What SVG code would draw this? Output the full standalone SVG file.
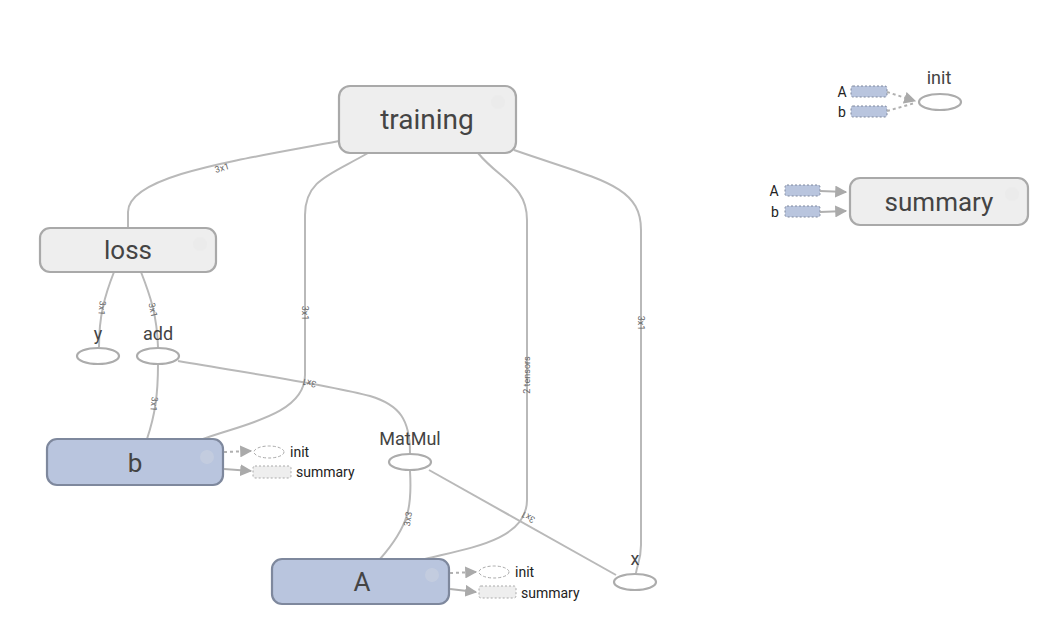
<svg xmlns="http://www.w3.org/2000/svg" width="1051" height="631" viewBox="0 0 1051 631">
<style>
.bg{fill:#fff}
.grp{fill:#eeeeee;stroke:#a9a9a9;stroke-width:2.2}
.var{fill:#b9c5de;stroke:#7e889d;stroke-width:2.2}
.op{fill:#fff;stroke:#acacac;stroke-width:2.2}
.big{font-family:Roboto,"Liberation Sans",sans-serif;fill:#444;text-anchor:middle}
.lbl{font-family:Roboto,"Liberation Sans",sans-serif;fill:#444;font-size:18px;text-anchor:middle}
.sm{font-family:Roboto,"Liberation Sans",sans-serif;fill:#222;font-size:14px}
.el{font-family:Roboto,"Liberation Sans",sans-serif;fill:#666;font-size:9px;text-anchor:middle}
.e{fill:none;stroke:#b9b9b9;stroke-width:2}
.ed{fill:none;stroke:#b0b0b0;stroke-width:2;stroke-dasharray:3 3}
.es{fill:none;stroke:#b0b0b0;stroke-width:2}
.dv{fill:#b9c5de;stroke:#7e889d;stroke-width:1;stroke-dasharray:2 2}
.dg{fill:#eee;stroke:#aaa;stroke-width:1;stroke-dasharray:2 2}
.do{fill:#fff;stroke:#aaa;stroke-width:1;stroke-dasharray:3 2}
.ico{fill:#e4e4e4;opacity:0.25}
</style>
<defs>
<marker id="ar" viewBox="0 0 10 10" refX="9" refY="5" markerWidth="6" markerHeight="6" orient="auto"><path d="M0 0L10 5L0 10z" fill="#aaa"/></marker>
</defs>
<rect class="bg" x="0" y="0" width="1051" height="631"/>
<g id="connectors">
<path class="e" d="M339 141 C 240 160, 128 175, 128 212 L128 228"/>
<path class="e" d="M368 153 C 330 175, 305 180, 305 215 L305 375 C305 415, 240 425, 203 439"/>
<path class="e" d="M478 153 C 500 180, 527 185, 527 220 L527 500 C527 540, 470 548, 425 559"/>
<path class="e" d="M514 150 C 600 180, 641 185, 641 230 L641 545 C641 560, 637 565, 636 573"/>
<path class="e" d="M114 272 C 105 295, 99 315, 99 347"/>
<path class="e" d="M141 272 C 150 295, 157 315, 158 347"/>
<path class="e" d="M158 364 C 158 395, 155 415, 147 439"/>
<path class="e" d="M178 361 C 260 375, 330 385, 370 396 C 400 405, 410 420, 410 453"/>
<path class="e" d="M410 471 C 412 505, 410 525, 380 559"/>
<path class="e" d="M429 470 L616 575"/>
<text class="el" transform="translate(222,168) rotate(-16)" dy="3">3x1</text>
<text class="el" transform="translate(305,313) rotate(90)" dy="3">3x1</text>
<text class="el" transform="translate(527,375) rotate(-90)" dy="3">2 tensors</text>
<text class="el" transform="translate(641,323) rotate(90)" dy="3">3x1</text>
<text class="el" transform="translate(102,308) rotate(95)" dy="3">3x1</text>
<text class="el" transform="translate(153,310) rotate(78)" dy="3">3x1</text>
<text class="el" transform="translate(154,404) rotate(95)" dy="3">3x1</text>
<text class="el" transform="translate(309,383) rotate(192)" dy="3">3x1</text>
<text class="el" transform="translate(408,519) rotate(-80)" dy="3">3x3</text>
<text class="el" transform="translate(528,517) rotate(210)" dy="3">3x1</text>
</g>
<g id="training">
<rect class="grp" x="339" y="86" width="177" height="67" rx="11"/>
<circle class="ico" cx="498" cy="102" r="7"/>
<text class="big" x="427" y="129" font-size="28">training</text>
</g>
<g id="loss">
<rect class="grp" x="40" y="228" width="176" height="44" rx="10"/>
<circle class="ico" cx="200" cy="244" r="7"/>
<text class="big" x="128" y="259" font-size="26">loss</text>
</g>
<g id="summary">
<rect class="grp" x="850" y="178" width="178" height="47" rx="10"/>
<circle class="ico" cx="1012" cy="194" r="7"/>
<text class="big" x="939" y="211" font-size="26">summary</text>
<text class="sm" x="774" y="196" text-anchor="middle">A</text>
<rect class="dv" x="785" y="185" width="35" height="11" rx="2"/>
<path class="es" d="M820 191 L846 192" marker-end="url(#ar)"/>
<text class="sm" x="775" y="217" text-anchor="middle">b</text>
<rect class="dv" x="785" y="206" width="35" height="11" rx="2"/>
<path class="es" d="M820 212 L846 211" marker-end="url(#ar)"/>
</g>
<g id="init">
<ellipse class="op" cx="940" cy="102" rx="21" ry="8"/>
<text class="lbl" x="939" y="84">init</text>
<text class="sm" x="842" y="97" text-anchor="middle">A</text>
<rect class="dv" x="851" y="86" width="36" height="11" rx="2"/>
<path class="ed" d="M887 92 L915 101" marker-end="url(#ar)"/>
<text class="sm" x="842" y="117" text-anchor="middle">b</text>
<rect class="dv" x="851" y="106" width="36" height="11" rx="2"/>
<path class="ed" d="M887 111 L915 103"/>
</g>
<g id="y">
<ellipse class="op" cx="98" cy="356" rx="21" ry="8"/>
<text class="lbl" x="98" y="340">y</text>
</g>
<g id="add">
<ellipse class="op" cx="158" cy="356" rx="21" ry="8"/>
<text class="lbl" x="158" y="340">add</text>
</g>
<g id="MatMul">
<ellipse class="op" cx="410" cy="462" rx="21" ry="8"/>
<text class="lbl" x="410" y="445">MatMul</text>
</g>
<g id="x">
<ellipse class="op" cx="635" cy="582" rx="21" ry="8"/>
<text class="lbl" x="635" y="565">x</text>
</g>
<g id="b">
<rect class="var" x="47" y="439" width="176" height="46" rx="10"/>
<circle class="ico" cx="207" cy="457" r="7"/>
<text class="big" x="135" y="472" font-size="26">b</text>
<path class="ed" d="M224 452 L251 451" marker-end="url(#ar)"/>
<ellipse class="do" cx="269" cy="452" rx="15" ry="6"/>
<text class="sm" x="290" y="457">init</text>
<path class="es" d="M224 469 L251 471" marker-end="url(#ar)"/>
<rect class="dg" x="253" y="466" width="38" height="12" rx="2"/>
<text class="sm" x="296" y="477">summary</text>
</g>
<g id="A">
<rect class="var" x="272" y="559" width="177" height="45" rx="10"/>
<circle class="ico" cx="432" cy="575" r="7"/>
<text class="big" x="362" y="591" font-size="26">A</text>
<path class="ed" d="M450 573 L476 572" marker-end="url(#ar)"/>
<ellipse class="do" cx="494" cy="572" rx="15" ry="6"/>
<text class="sm" x="515" y="577">init</text>
<path class="es" d="M450 589 L476 592" marker-end="url(#ar)"/>
<rect class="dg" x="479" y="586" width="37" height="12" rx="2"/>
<text class="sm" x="521" y="598">summary</text>
</g>
</svg>
